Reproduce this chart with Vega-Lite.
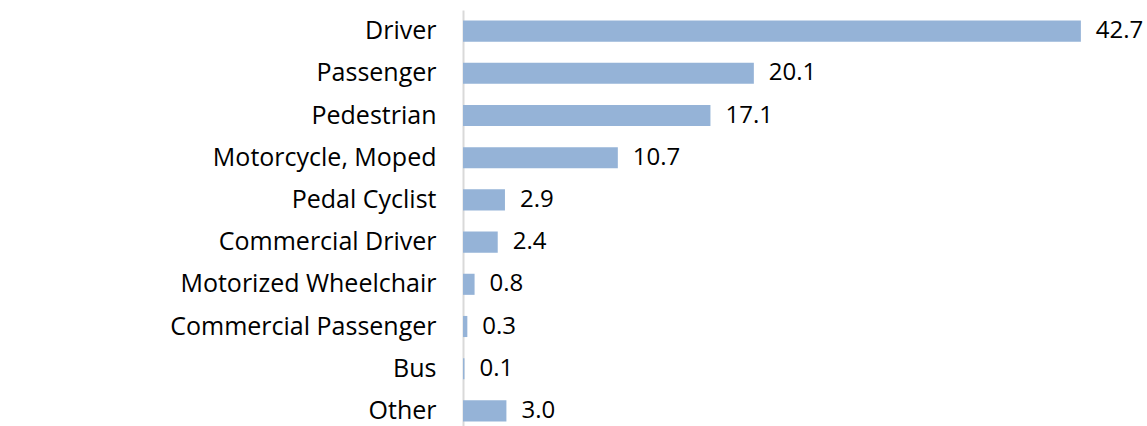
{
  "$schema": "https://vega.github.io/schema/vega-lite/v6.json",
  "autosize": {"type": "none"},
  "padding": {"left": 463, "top": 10, "right": 0, "bottom": 0},
  "width": 684,
  "height": 422,
  "background": "white",
  "config": {"view": {"stroke": null}, "font": "Open Sans"},
  "data": {"values": [
    {"category": "Driver", "value": 42.7, "label": "42.7"},
    {"category": "Passenger", "value": 20.1, "label": "20.1"},
    {"category": "Pedestrian", "value": 17.1, "label": "17.1"},
    {"category": "Motorcycle, Moped", "value": 10.7, "label": "10.7"},
    {"category": "Pedal Cyclist", "value": 2.9, "label": "2.9"},
    {"category": "Commercial Driver", "value": 2.4, "label": "2.4"},
    {"category": "Motorized Wheelchair", "value": 0.8, "label": "0.8"},
    {"category": "Commercial Passenger", "value": 0.3, "label": "0.3"},
    {"category": "Bus", "value": 0.1, "label": "0.1"},
    {"category": "Other", "value": 3.0, "label": "3.0"}
  ]},
  "encoding": {
    "y": {
      "field": "category", "type": "nominal", "sort": null,
      "scale": {"paddingInner": 0.5, "paddingOuter": 0.25},
      "axis": {
        "title": null, "ticks": false, "domainColor": "#D9D9D9", "domainWidth": 2,
        "labelFontSize": 25, "labelColor": "#000000", "labelPadding": 27,
        "labelFont": "Open Sans", "labelLimit": 400
      }
    },
    "x": {
      "field": "value", "type": "quantitative",
      "scale": {"domain": [0, 47.27], "nice": false},
      "axis": null
    }
  },
  "layer": [
    {"mark": {"type": "bar", "color": "#95B3D7"}},
    {"mark": {"type": "text", "align": "left", "baseline": "middle", "dx": 15, "fontSize": 24, "color": "#000000", "font": "Open Sans"},
     "encoding": {"text": {"field": "label"}}}
  ]
}
